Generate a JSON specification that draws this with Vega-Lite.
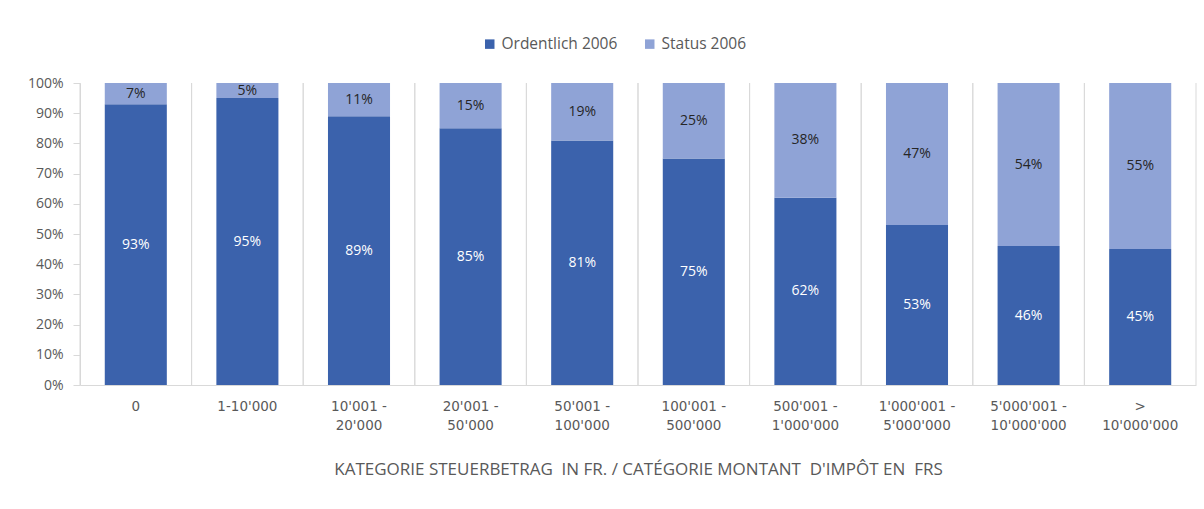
{
  "$schema": "https://vega.github.io/schema/vega-lite/v6.json",
  "width": 1116,
  "height": 302,
  "autosize": {"type": "none"},
  "padding": {"left": 80, "top": 83, "right": 8, "bottom": 124},
  "background": "white",
  "config": {
    "font": "Open Sans",
    "view": {"stroke": null},
    "axis": {"labelColor": "#595959", "titleColor": "#595959", "labelFont": "Open Sans", "titleFont": "Open Sans", "titleFontWeight": "normal"},
    "axisY": {"labelOverlap": false, "grid": false, "labelFontSize": 14, "labelPadding": 10, "tickSize": 7, "tickColor": "#D9D9D9", "domainColor": "#D9D9D9"},
    "legend": {"labelColor": "#595959", "labelFont": "Open Sans"}
  },
  "data": {
    "values": [
      {"cat": "0", "series": "Ordentlich 2006", "value": 0.93},
      {"cat": "0", "series": "Status 2006", "value": 0.07},
      {"cat": "1-10'000", "series": "Ordentlich 2006", "value": 0.95},
      {"cat": "1-10'000", "series": "Status 2006", "value": 0.05},
      {"cat": "10'001 -|20'000", "series": "Ordentlich 2006", "value": 0.89},
      {"cat": "10'001 -|20'000", "series": "Status 2006", "value": 0.11},
      {"cat": "20'001 -|50'000", "series": "Ordentlich 2006", "value": 0.85},
      {"cat": "20'001 -|50'000", "series": "Status 2006", "value": 0.15},
      {"cat": "50'001 -|100'000", "series": "Ordentlich 2006", "value": 0.81},
      {"cat": "50'001 -|100'000", "series": "Status 2006", "value": 0.19},
      {"cat": "100'001 -|500'000", "series": "Ordentlich 2006", "value": 0.75},
      {"cat": "100'001 -|500'000", "series": "Status 2006", "value": 0.25},
      {"cat": "500'001 -|1'000'000", "series": "Ordentlich 2006", "value": 0.62},
      {"cat": "500'001 -|1'000'000", "series": "Status 2006", "value": 0.38},
      {"cat": "1'000'001 -|5'000'000", "series": "Ordentlich 2006", "value": 0.53},
      {"cat": "1'000'001 -|5'000'000", "series": "Status 2006", "value": 0.47},
      {"cat": "5'000'001 -|10'000'000", "series": "Ordentlich 2006", "value": 0.46},
      {"cat": "5'000'001 -|10'000'000", "series": "Status 2006", "value": 0.54},
      {"cat": ">|10'000'000", "series": "Ordentlich 2006", "value": 0.45},
      {"cat": ">|10'000'000", "series": "Status 2006", "value": 0.55}
    ]
  },
  "transform": [
    {"stack": "value", "groupby": ["cat"], "sort": [{"field": "series", "order": "ascending"}], "as": ["v0", "v1"]},
    {"calculate": "(datum.v0 + datum.v1) / 2", "as": "mid"}
  ],
  "encoding": {
    "x": {
      "field": "cat",
      "type": "nominal",
      "sort": null,
      "scale": {"paddingInner": 0.444, "paddingOuter": 0.222},
      "axis": {
        "title": "KATEGORIE STEUERBETRAG \u00a0IN FR. / CATÉGORIE MONTANT \u00a0D'IMPÔT EN \u00a0FRS",
        "titleFontSize": 17,
        "titlePadding": 30,
        "labelAngle": 0,
        "labelFont": "DejaVu Sans",
        "labelFontSize": 13.5,
        "labelPadding": 14,
        "labelLineHeight": 19,
        "labelExpr": "split(datum.value, '|')",
        "labelOverlap": false,
        "ticks": false,
        "grid": false,
        "domainColor": "#D9D9D9",
        "labelBaseline": "top"
      }
    },
    "y": {
      "type": "quantitative",
      "scale": {"domain": [0, 1]},
      "axis": {
        "title": null,
        "format": ".0%",
        "values": [0, 0.1, 0.2, 0.3, 0.4, 0.5, 0.6, 0.7, 0.8, 0.9, 1]
      }
    }
  },
  "layer": [
    {
      "transform": [{"filter": "datum.series === 'Ordentlich 2006'"}],
      "mark": {"type": "rule", "color": "#D9D9D9", "strokeWidth": 1},
      "encoding": {"x": {"field": "cat", "type": "nominal", "sort": null, "bandPosition": -0.3993}, "y": null}
    },
    {
      "transform": [{"filter": "datum.series === 'Ordentlich 2006'"}],
      "mark": {"type": "rule", "color": "#D9D9D9", "strokeWidth": 1},
      "encoding": {"x": {"field": "cat", "type": "nominal", "sort": null, "bandPosition": 1.3993}, "y": null}
    },
    {
      "mark": {"type": "bar"},
      "encoding": {
        "y": {
          "field": "v0",
          "type": "quantitative",
          "scale": {"domain": [0, 1]},
          "axis": {
            "title": null,
            "format": ".0%",
            "values": [0, 0.1, 0.2, 0.3, 0.4, 0.5, 0.6, 0.7, 0.8, 0.9, 1]
          }
        },
        "y2": {"field": "v1"},
        "color": {
          "field": "series",
          "type": "nominal",
          "scale": {"domain": ["Ordentlich 2006", "Status 2006"], "range": ["#3B62AC", "#8FA3D6"]},
          "legend": {
            "title": null,
            "orient": "none",
            "direction": "horizontal",
            "legendX": 402,
            "legendY": -47,
            "symbolType": "square",
            "symbolSize": 90,
            "symbolStrokeWidth": 0,
            "labelFontSize": 15.5,
            "columnPadding": 24,
            "labelOffset": 4
          }
        }
      }
    },
    {
      "mark": {"type": "text", "fontSize": 14, "baseline": "middle", "align": "center"},
      "encoding": {
        "y": {
          "field": "mid",
          "type": "quantitative",
          "scale": {"domain": [0, 1]},
          "axis": {
            "title": null,
            "format": ".0%",
            "values": [0, 0.1, 0.2, 0.3, 0.4, 0.5, 0.6, 0.7, 0.8, 0.9, 1]
          }
        },
        "text": {"field": "value", "type": "quantitative", "format": ".0%"},
        "color": {
          "field": "series",
          "type": "nominal",
          "scale": {"domain": ["Ordentlich 2006", "Status 2006"], "range": ["#FFFFFF", "#262626"]},
          "legend": null
        }
      }
    }
  ],
  "resolve": {"scale": {"color": "independent"}}
}
